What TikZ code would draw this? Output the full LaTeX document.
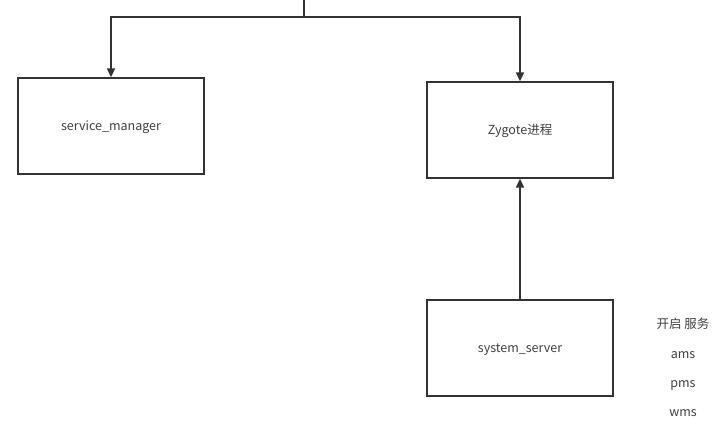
\documentclass[tikz,border=0pt]{standalone}
\usepackage{fontspec}
\setmainfont{Noto Sans CJK SC}
\usetikzlibrary{arrows.meta}
\definecolor{ln}{HTML}{333333}
\definecolor{tx}{HTML}{404040}
\tikzset{
  box/.style={draw=ln, line width=1.3pt, minimum width=186pt, minimum height=96pt, inner sep=0pt, text height=9pt, text depth=0pt, font=\fontsize{12.5}{14}\selectfont, text=tx},
  conn/.style={draw=ln, line width=1.6pt, -{Triangle[length=9pt,width=8pt]}},
  lbl/.style={font=\fontsize{12.5}{14}\selectfont, text=tx, inner sep=0pt, anchor=base}
}
\begin{document}
\begin{tikzpicture}[x=1pt,y=-1pt]
\useasboundingbox (0,0) rectangle (720,439);
\node[box] (sm) at (111,126) {service\_manager};
\node[box] (zy) at (520,130) {Zygote进程};
\node[box] (ss) at (520,348) {system\_server};
\coordinate (top) at (304,0);
\coordinate (bend) at (304,17);
\draw[conn] (top) -- (bend) -| (sm.north);
\draw[conn] (bend) -| (zy.north);
\draw[conn] (ss.north) -- (zy.south);
\node[lbl] (t1) at (683,328) {开启 服务};
\node[lbl] (t2) at (683,358) {ams};
\node[lbl] (t3) at (683,387) {pms};
\node[lbl] (t4) at (683,416) {wms};
\end{tikzpicture}
\end{document}
